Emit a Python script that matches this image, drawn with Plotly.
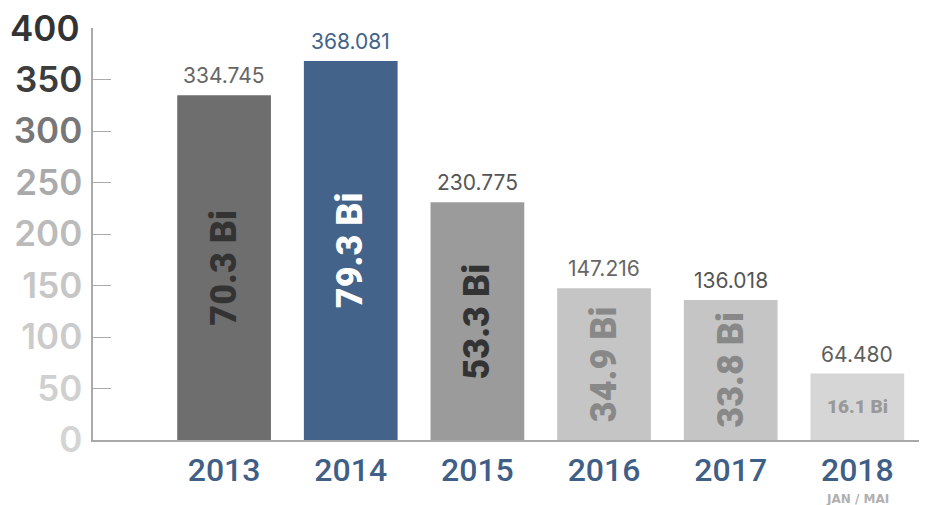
import plotly.graph_objects as go

years = ["2013", "2014", "2015", "2016", "2017", "2018"]
values = [334.745, 368.081, 230.775, 147.216, 136.018, 64.480]
value_labels = ["334.745", "368.081", "230.775", "147.216", "136.018", "64.480"]
inner_labels = ["70.3 Bi", "79.3 Bi", "53.3 Bi", "34.9 Bi", "33.8 Bi", "16.1 Bi"]
bar_colors = ["#6e6e6e", "#43638a", "#9b9b9b", "#c5c5c5", "#c5c5c5", "#d6d6d6"]
inner_colors = ["#333333", "#ffffff", "#333333", "#888888", "#888888", "#999999"]
value_colors = ["#666666", "#436388", "#555555", "#666666", "#555555", "#5e5e5e"]
y_ticks = [0, 50, 100, 150, 200, 250, 300, 350, 400]
y_tick_colors = ["#d4d4d4", "#d0d0d0", "#cbcbcb", "#c6c6c6", "#bbbbbb",
                 "#aaaaaa", "#777777", "#3d3d3d", "#333333"]
sub_label = "JAN / MAI"

fig = go.Figure()
fig.add_trace(go.Bar(
    x=years, y=values, width=0.74,
    marker=dict(color=bar_colors, line=dict(width=0)),
    hoverinfo="skip",
))

annotations = []
for i, v in enumerate(values):
    annotations.append(dict(
        x=i, y=v, text=value_labels[i], showarrow=False,
        xref="x", yref="y", yanchor="bottom", yshift=5,
        font=dict(family="Inter", size=21, color=value_colors[i]),
    ))
    if i < len(values) - 1:
        annotations.append(dict(
            x=i, y=v / 2, text=inner_labels[i], showarrow=False,
            xref="x", yref="y", textangle=-90,
            font=dict(family="Roboto", size=36, color=inner_colors[i], weight=900),
        ))
    else:
        annotations.append(dict(
            x=i, y=v / 2, text=inner_labels[i], showarrow=False,
            xref="x", yref="y",
            font=dict(family="Roboto", size=19, color=inner_colors[i], weight=900),
        ))

annotations.append(dict(
    x=len(years) - 1, y=0, xref="x", yref="y", text=sub_label,
    showarrow=False, yanchor="middle", yshift=-59,
    font=dict(family="DejaVu Sans", size=12, color="#b0b0b0", weight=700),
))
annotations.append(dict(
    xref="paper", yref="y", x=0, y=y_ticks[-1], text=str(y_ticks[-1]),
    showarrow=False, xanchor="right", xshift=-11,
    font=dict(family="Inter", size=35, color=y_tick_colors[-1], weight=600),
))

fig.update_layout(
    width=927, height=505,
    margin=dict(l=85, r=8, t=20, b=73, autoexpand=False),
    paper_bgcolor="white", plot_bgcolor="white",
    showlegend=False,
    annotations=annotations,
    xaxis=dict(
        type="category", range=[-1.035, 5.55], automargin=False,
        showline=True, linecolor="#a8a8a8", linewidth=1.5,
        showgrid=False, zeroline=False, ticks="",
        ticklabelstandoff=1,
        tickfont=dict(family="Roboto", size=32, color="#3f5f87", weight=500),
    ),
    yaxis=dict(
        range=[0, 400], automargin=False,
        showline=True, linecolor="#aaaaaa", linewidth=1.5,
        showgrid=False, zeroline=False,
        tickvals=y_ticks[:-1],
        ticktext=[f'<span style="color:{c}">{t}</span>'
                  for t, c in zip(y_ticks[:-1], y_tick_colors[:-1])],
        ticks="inside", ticklen=18, tickcolor="#aaaaaa", tickwidth=1,
        ticklabelstandoff=2,
        tickfont=dict(family="Inter", size=35, weight=600),
    ),
)

fig.write_html("out.html")
